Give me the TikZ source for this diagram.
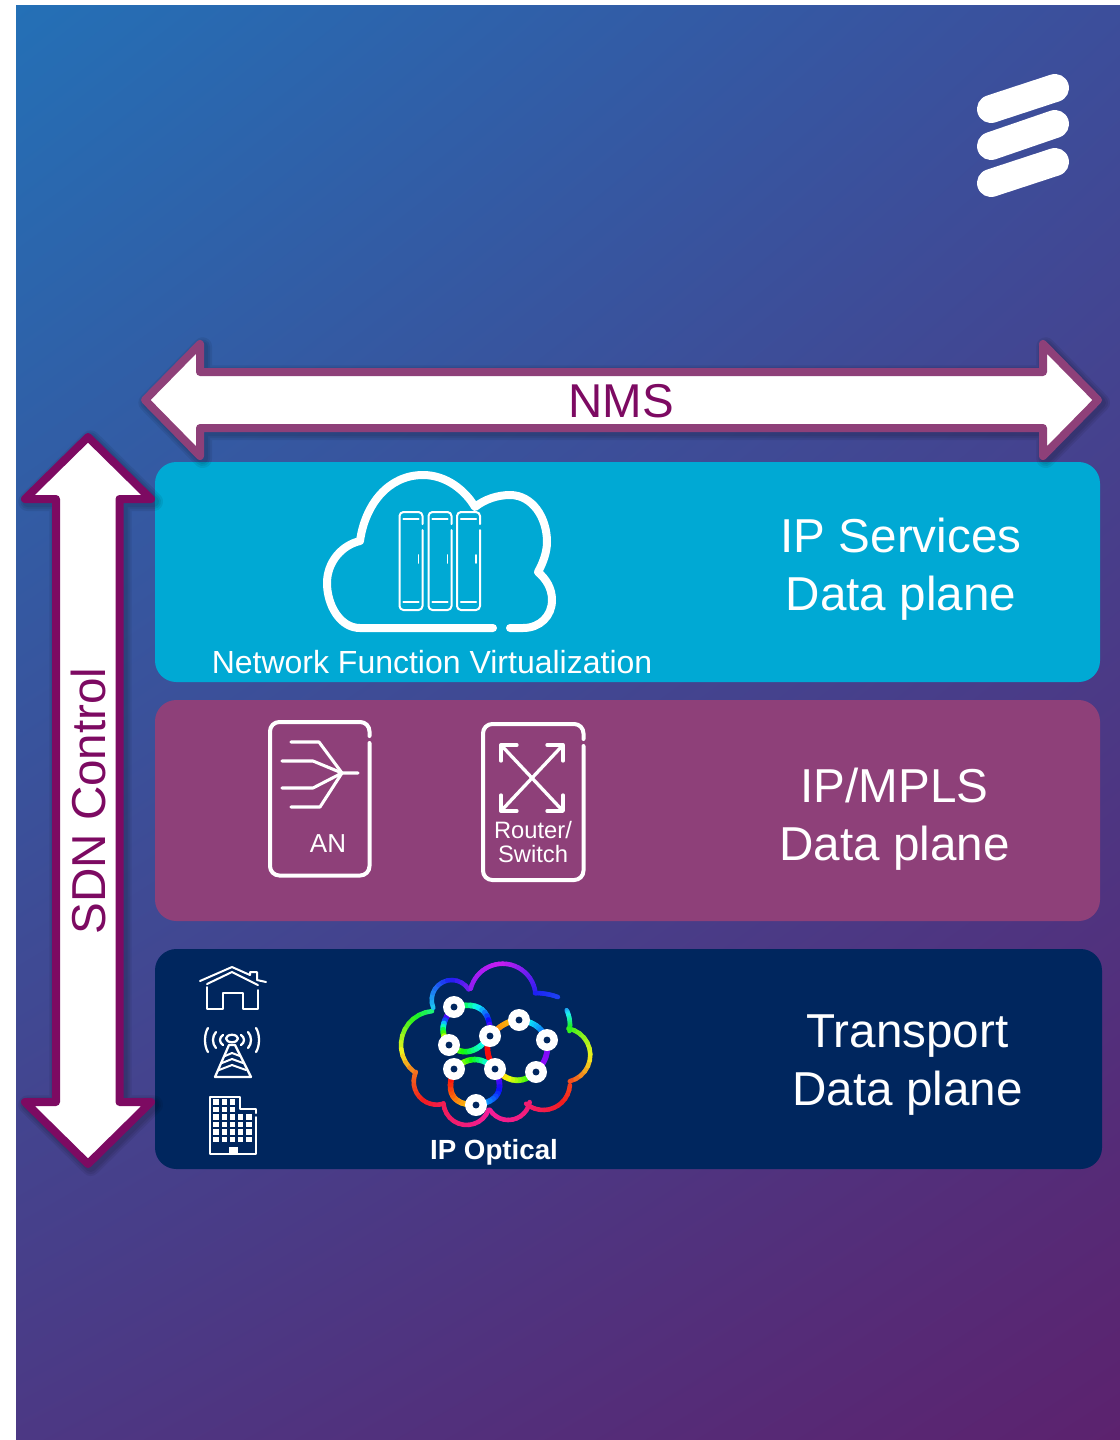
\documentclass[tikz,border=0pt]{standalone}
\usepackage{fontspec}
\setmainfont{Liberation Sans}
\usetikzlibrary{shadings}

\definecolor{panelcyan}{HTML}{00A9D4}
\definecolor{panelplum}{HTML}{8E4079}
\definecolor{panelnavy}{HTML}{00265E}
\definecolor{arrowplum}{HTML}{7D0A62}
\definecolor{backtl}{RGB}{36,112,182}
\definecolor{backtr}{RGB}{60,78,155}
\definecolor{backbl}{RGB}{76,56,132}
\definecolor{backbr}{RGB}{92,34,110}

% rainbow pieces, the colour runs from hue #6 to hue #7
\newcommand{\ringarc}[7]{%
  \foreach \k in {1,...,12}{
    \pgfmathsetmacro\angA{#4+(#5-#4)*(\k-1)/12}
    \pgfmathsetmacro\angB{#4+(#5-#4)*\k/12}
    \pgfmathsetmacro\hueval{mod(#6+(#7-#6)*(\k-.5)/12+360,360)}
    \definecolor{ringcol}{Hsb}{\hueval,.88,.95}
    \draw[cloudline,ringcol] ({#1+#3*cos(\angA)},{#2-#3*sin(\angA)}) -- ({#1+#3*cos(\angB)},{#2-#3*sin(\angB)});
  }}
\newcommand{\ringcurve}[8]{%
  \foreach \k in {1,...,12}{
    \pgfmathsetmacro\tA{(\k-1)/12}
    \pgfmathsetmacro\tB{\k/12}
    \pgfmathsetmacro\hueval{mod(#7+(#8-#7)*(\k-.5)/12+360,360)}
    \definecolor{ringcol}{Hsb}{\hueval,.95,.98}
    \draw[linkline,ringcol]
      ({(1-\tA)^2*#1+2*(1-\tA)*\tA*#3+\tA^2*#5},{(1-\tA)^2*#2+2*(1-\tA)*\tA*#4+\tA^2*#6}) --
      ({(1-\tB)^2*#1+2*(1-\tB)*\tB*#3+\tB^2*#5},{(1-\tB)^2*#2+2*(1-\tB)*\tB*#4+\tB^2*#6});
  }}

\newcommand{\nmspath}{(145,400) -- (200,344) -- (200,372) -- (1043,372) -- (1043,344) -- (1098,400) -- (1043,456) -- (1043,428) -- (200,428) -- (200,456) -- cycle}
\newcommand{\sdnpath}{(88,437) -- (151,499) -- (119.5,499) -- (119.5,1102) -- (151,1102) -- (88,1164) -- (25,1102) -- (56,1102) -- (56,499) -- (25,499) -- cycle}

\tikzset{
  bigtext/.style={text=white,align=center,font=\fontsize{35.7}{43.5}\selectfont},
  cloudline/.style={line width=3.4pt,line cap=round},
  linkline/.style={line width=4.2pt,line cap=round},
  iconline/.style={draw=white,line width=#1,line cap=round,line join=round},
  iconline/.default=1.5pt,
  glow/.style={black,opacity=.07,line join=round,xshift=2pt,yshift=-2pt},
  ringnode/.style={circle,fill=white,inner sep=0pt,minimum size=16.5pt}
}

\begin{document}
\begin{tikzpicture}[x=0.75pt,y=-0.75pt]
  \useasboundingbox (0,0) rectangle (1120,1440);
  \shade[upper left=backtl,upper right=backtr,lower left=backbl,lower right=backbr] (16,5) rectangle (1120,1440);

  % logo
  \foreach \ya/\yb in {109/88,146/124,183/162}
    \draw[white,line width=21pt,line cap=round] (991,\ya) -- (1055,\yb);

  % panels
  \fill[panelcyan,rounded corners=16pt] (155,462) rectangle (1100,682);
  \fill[panelplum,rounded corners=16pt] (155,700) rectangle (1100,921);
  \fill[panelnavy,rounded corners=16pt] (155,949) rectangle (1102,1169);

  % double arrows
  \foreach \w in {14,11,8} \draw[glow,line width=\w pt] \nmspath;
  \filldraw[fill=white,draw=panelplum,line width=6pt,line join=round] \nmspath;
  \foreach \w in {14,11,8} \draw[glow,line width=\w pt] \sdnpath;
  \filldraw[fill=white,draw=arrowplum,line width=6pt,line join=round] \sdnpath;
  \node[text=arrowplum,font=\fontsize{35.6}{43}\selectfont] (nms) at (621,401) {NMS};
  \node[text=arrowplum,rotate=90,font=\fontsize{35.7}{43}\selectfont] (sdn) at (88,801) {SDN Control};

  % labels on the right
  \node[bigtext] (services) at (901,569.5) {IP Services\\Data plane};
  \node[bigtext] (mpls) at (894.5,819.5) {IP/MPLS\\Data plane};
  \node[bigtext] (transport) at (907.5,1065.5) {Transport\\Data plane};

  % cloud with racks
  \draw[iconline=6pt] (493,628) -- (360,628) .. controls (340,628) and (327,605) .. (327,583)
    .. controls (327,562) and (342,545) .. (360,541) .. controls (365,505) and (388,475) .. (423,475)
    .. controls (446,475) and (465,490) .. (475,507) .. controls (485,499) and (498,495) .. (510,495)
    .. controls (532,495) and (547,517) .. (547,542) .. controls (547,552) and (543,563) .. (538,572)
    .. controls (546,579) and (552,588) .. (552,600) .. controls (552,616) and (540,628) .. (523,628) -- (510,628);
  \foreach \x in {399.5,428.5,457}{
    \draw[iconline=1.5pt,rounded corners=3pt] (\x+23,524) -- (\x+23,512) -- (\x,512) -- (\x,610) -- (\x+23,610) -- (\x+23,530);
    \draw[iconline=1.7pt] (\x+4,519) -- (\x+19,519);
    \draw[iconline=1.7pt] (\x+4,602) -- (\x+19,602);
    \draw[iconline=1.4pt] (\x+19,555) -- (\x+19,563);
  }
  \node[text=white,font=\fontsize{24}{30}\selectfont] (nfv) at (432,662) {Network Function Virtualization};

  % AN box
  \draw[iconline=3pt,rounded corners=7pt] (369.5,736) -- (369.5,722) -- (270,722) -- (270,875.5) -- (369.5,875.5) -- (369.5,743);
  \draw[iconline=2.3pt] (291,742) -- (319,742) -- (342,773) -- (358,773);
  \draw[iconline=2.3pt] (282,761) -- (313,761) -- (342,773) -- (313,788) -- (282,788);
  \draw[iconline=2.3pt] (291,807) -- (320,807) -- (342,773);
  \node[text=white,font=\fontsize{19.5}{24}\selectfont] (an) at (328,844) {AN};

  % router box
  \draw[iconline=3pt,rounded corners=7pt] (583.5,739) -- (583.5,724) -- (483,724) -- (483,880) -- (583.5,880) -- (583.5,746);
  \draw[iconline=2.5pt] (501,745) -- (563,811);
  \draw[iconline=2.5pt] (563,745) -- (501,811);
  \draw[iconline=2.5pt] (501,761) -- (501,745) -- (517,745);
  \draw[iconline=2.5pt] (547,745) -- (563,745) -- (563,761);
  \draw[iconline=2.5pt] (501,795) -- (501,811) -- (517,811);
  \draw[iconline=2.5pt] (547,811) -- (563,811) -- (563,795);
  \node[text=white,align=center,font=\fontsize{17.8}{17.5}\selectfont] (router) at (533,842) {Router/\\Switch};

  % house
  \draw[iconline=1.5pt] (200,981) -- (232,967) -- (250,975) -- (250,972) -- (257,972) -- (257,980) -- (266,982);
  \draw[iconline=1.5pt] (207,984) -- (232,972) -- (258,985);
  \draw[iconline=1.5pt] (207,987) -- (207,1009) -- (223,1009) -- (223,993) -- (243,993) -- (243,1009) -- (258,1009) -- (258,990);

  % mast
  \draw[iconline=1.7pt] (232,1038.5) ellipse (4.5pt and 2.8pt);
  \foreach \dx/\dy in {12/5,19/8,27/12}{
    \draw[iconline=1.7pt] (232-\dx+3,1040-\dy) .. controls (232-\dx-1,1040-\dy/2) and (232-\dx-1,1040+\dy/2) .. (232-\dx+3,1040+\dy);
    \draw[iconline=1.7pt] (232+\dx-3,1040-\dy) .. controls (232+\dx+1,1040-\dy/2) and (232+\dx+1,1040+\dy/2) .. (232+\dx-3,1040+\dy);
  }
  \draw[iconline=1.7pt] (215,1077) -- (229,1045) -- (235,1045) -- (251,1077) -- cycle;
  \draw[iconline=1.5pt] (225,1056) -- (232,1053) -- (240,1056);
  \draw[iconline=1.5pt] (222,1063) -- (232,1059) -- (243,1063);
  \draw[iconline=1.5pt] (219,1070) -- (232,1065) -- (246,1070);

  % office block
  \draw[iconline=1.5pt] (256,1113) -- (256,1108.5) -- (240,1108.5) -- (240,1097) -- (210,1097) -- (210,1154) -- (256,1154) -- (256,1117);
  \foreach \y in {1102,1109.5}
    \foreach \x in {216,224.2,232.4}
      \fill[white] (\x-2.7,\y-2.7) rectangle (\x+2.7,\y+2.7);
  \foreach \y in {1117,1124.5,1132,1139.5}
    \foreach \x in {216,224.2,232.4,240.6,248.8}
      \fill[white] (\x-2.7,\y-2.7) rectangle (\x+2.7,\y+2.7);
  \fill[white] (228.5,1146.5) rectangle (237.5,1154);

  % rainbow cloud
  \ringarc{435}{1045}{34}{95}{233}{150}{25}
  \ringarc{436.7}{1081.7}{23}{155}{287}{25}{-15}
  \ringarc{466.7}{1101.7}{23.3}{184}{340}{345}{325}
  \ringarc{508.3}{1098.3}{21.7}{212}{350}{325}{335}
  \ringarc{543.3}{1083.3}{26.7}{230}{356}{335}{370}
  \ringarc{563.3}{1055}{27}{284}{439}{10}{110}
  \ringarc{451.7}{1000}{20}{203}{32}{190}{265}
  \ringarc{502.7}{996.7}{33}{166}{90}{272}{288}
  \ringarc{502.7}{996.7}{33}{90}{6}{288}{245}
  \ringarc{535}{1060}{67}{90}{70}{240}{230}
  \ringarc{535}{1025}{35}{25}{-10}{205}{110}

  % rings between the dots
  \ringcurve{454}{1007}{435}{1027}{449}{1045}{355}{5}
  \ringcurve{454}{1007}{492}{998}{490}{1036}{110}{275}
  \ringcurve{449}{1045}{470}{1062}{490}{1036}{70}{195}
  \ringcurve{490}{1036}{505}{1020}{519}{1020}{25}{50}
  \ringcurve{519}{1020}{540}{1022}{547}{1040}{165}{225}
  \ringcurve{547}{1040}{550}{1058}{536}{1072}{265}{275}
  \ringcurve{536}{1072}{516}{1090}{495}{1069}{135}{35}
  \ringcurve{495}{1069}{483}{1052}{490}{1036}{0}{0}
  \ringcurve{454}{1069}{475}{1050}{495}{1069}{55}{195}
  \ringcurve{495}{1069}{510}{1100}{476}{1105}{275}{195}
  \ringcurve{476}{1105}{441}{1105}{454}{1069}{55}{-5}

  \foreach \n/\x/\y in {a/454/1007,b/519/1020,c/490/1036,d/547/1040,e/449/1045,f/454/1069,g/495/1069,h/536/1072,i/476/1105}{
    \node[ringnode] (dot\n) at (\x,\y) {};
    \fill[panelnavy] (dot\n) circle (2.6pt);
  }
  \node[text=white,font=\bfseries\fontsize{20.8}{25}\selectfont] (optical) at (494,1152.5) {IP Optical};
\end{tikzpicture}
\end{document}
